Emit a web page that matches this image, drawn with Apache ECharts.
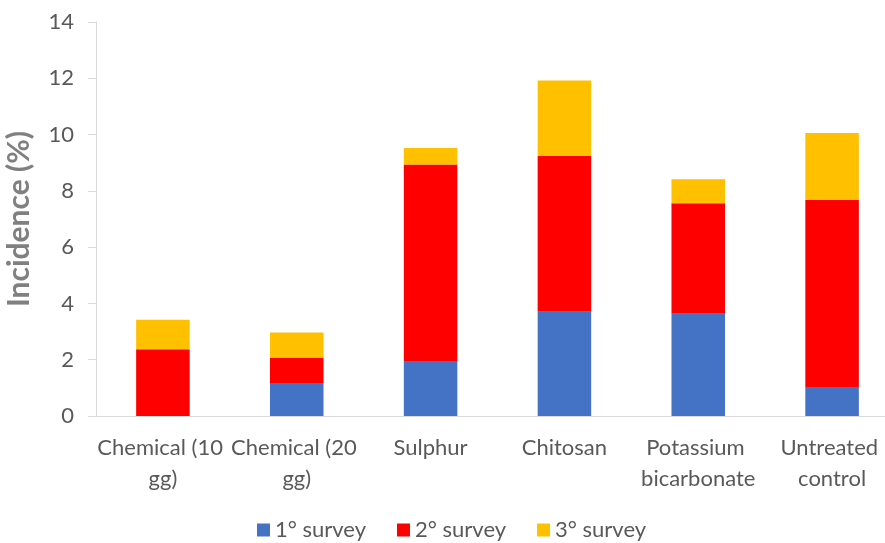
<!DOCTYPE html>
<html>
<head>
<meta charset="utf-8">
<script src="https://cdn.jsdelivr.net/npm/echarts@6/dist/echarts.min.js"></script>
<style>
  html, body { margin: 0; padding: 0; background: #fff; }
  #chart { width: 885px; height: 543px; }
</style>
</head>
<body>
<div id="chart"></div>
<script>
// Treatments along the x axis
const categories = ['Chemical (10 gg)', 'Chemical (20 gg)', 'Sulphur', 'Chitosan', 'Potassium bicarbonate', 'Untreated control'];

// Incidence (%) added by each survey, stacked
const survey1 = [0, 1.17, 1.95, 3.70, 3.63, 1.03];
const survey2 = [2.37, 0.89, 6.99, 5.55, 3.93, 6.65];
const survey3 = [1.05, 0.91, 0.58, 2.67, 0.85, 2.38];

const seriesNames = ['1° survey', '2° survey', '3° survey'];
const seriesColors = ['#4472C4', '#FF0000', '#FFC000'];

const yTicks = { min: 0, max: 14, interval: 2 };

const FONT = 'Lato, "Open Sans", sans-serif';
const TEXT = '#595959';
const AXIS = '#d9d9d9';

const chart = echarts.init(document.getElementById('chart'), null, { renderer: 'canvas' });

const values = [survey1, survey2, survey3];

chart.setOption({
  animation: false,
  textStyle: { fontFamily: FONT },
  grid: { left: 96, top: 22, width: 803, bottom: 127, containLabel: false, outerBoundsMode: 'none' },
  legend: {
    top: 514,
    left: 252,
    itemWidth: 13,
    itemHeight: 13,
    itemGap: 31,
    icon: 'rect',
    textStyle: { color: TEXT, fontSize: 22, fontFamily: FONT },
    data: seriesNames
  },
  xAxis: {
    type: 'category',
    data: categories,
    axisLine: { show: true, lineStyle: { color: AXIS, width: 1 } },
    axisTick: { show: false },
    axisLabel: {
      interval: 0,
      color: TEXT,
      fontSize: 22,
      fontFamily: FONT,
      margin: 16,
      lineHeight: 31,
      width: 132,
      overflow: 'break'
    }
  },
  yAxis: {
    type: 'value',
    min: yTicks.min,
    max: yTicks.max,
    interval: yTicks.interval,
    name: 'Incidence (%)',
    nameLocation: 'middle',
    nameRotate: 90,
    nameGap: 62,
    nameTextStyle: { color: '#808080', fontSize: 30, fontWeight: 'bold', fontFamily: FONT },
    axisLine: { show: true, lineStyle: { color: AXIS, width: 1 } },
    axisTick: { show: true, length: 8, lineStyle: { color: AXIS } },
    splitLine: { show: false },
    axisLabel: { color: TEXT, fontSize: 22, fontFamily: FONT, margin: 22 }
  },
  series: seriesNames.map((name, i) => ({
    name,
    type: 'bar',
    stack: 'incidence',
    barWidth: '40%',
    itemStyle: { color: seriesColors[i] },
    data: values[i]
  }))
});
</script>
</body>
</html>
